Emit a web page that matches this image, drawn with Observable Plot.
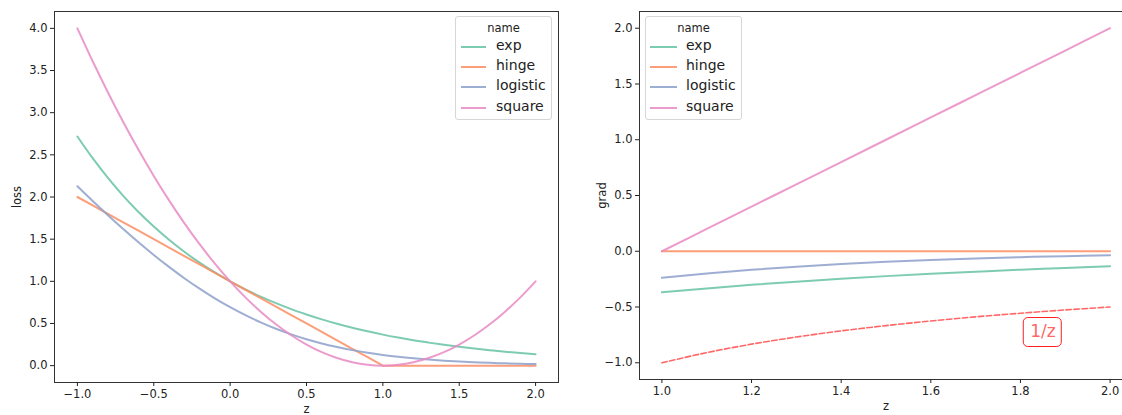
<!DOCTYPE html>
<html>
<head>
<meta charset="utf-8">
<script src="https://cdn.jsdelivr.net/npm/d3@7"></script>
<script src="https://cdn.jsdelivr.net/npm/@observablehq/plot@0.6"></script>
<style>
  html, body { margin: 0; padding: 0; background: #fff; overflow: hidden; }
  #wrap { position: relative; width: 1122px; height: 415px; overflow: hidden; font-family: "DejaVu Sans", sans-serif; }
  .panel { position: absolute; top: 0; max-width: none !important; }
  .legend { position: absolute; background: rgba(255,255,255,0.85); border: 1px solid #d6d6d6; border-radius: 3px; box-sizing: border-box; }
  .legend .title { position: absolute; left: 0; right: 0; text-align: center; font-size: 11.5px; color: #222; }
  .legend .item { position: absolute; font-size: 14px; color: #222; white-space: nowrap; line-height: 1; }
  .legend .swatch { position: absolute; height: 2px; }
  .annot { position: absolute; border: 1.2px solid #ff2020; border-radius: 5px; color: rgba(255,60,60,0.8); font-size: 17px; line-height: 1; padding: 5px 5px 6px 6px; transform: translate(-50%, -50%); background: #fff; }
</style>
</head>
<body>
<div id="wrap"></div>
<script>
// ---------- data ----------
const names = ["exp", "hinge", "logistic", "square"];
const colors = ["#66c2a5", "#fc8d62", "#8da0cb", "#e78ac3"];

const zLoss = [-1.0,-0.9,-0.8,-0.7,-0.6,-0.5,-0.4,-0.3,-0.2,-0.1,0.0,0.1,0.2,0.3,0.4,0.5,0.6,0.7,0.8,0.9,1.0,1.1,1.2,1.3,1.4,1.5,1.6,1.7,1.8,1.9,2.0];
const lossExp = [2.718,2.460,2.226,2.014,1.822,1.649,1.492,1.350,1.221,1.105,1.000,0.905,0.819,0.741,0.670,0.607,0.549,0.497,0.449,0.407,0.368,0.333,0.301,0.273,0.247,0.223,0.202,0.183,0.165,0.150,0.135];
const lossHinge = [2.0,1.9,1.8,1.7,1.6,1.5,1.4,1.3,1.2,1.1,1.0,0.9,0.8,0.7,0.6,0.5,0.4,0.3,0.2,0.1,0.0,0,0,0,0,0,0,0,0,0,0];
const lossLogistic = [2.127,1.953,1.784,1.620,1.463,1.313,1.171,1.037,0.913,0.798,0.693,0.598,0.513,0.437,0.371,0.313,0.263,0.221,0.184,0.153,0.127,0.105,0.087,0.072,0.059,0.049,0.040,0.033,0.027,0.022,0.018];
const lossSquare = [4.00,3.61,3.24,2.89,2.56,2.25,1.96,1.69,1.44,1.21,1.00,0.81,0.64,0.49,0.36,0.25,0.16,0.09,0.04,0.01,0.00,0.01,0.04,0.09,0.16,0.25,0.36,0.49,0.64,0.81,1.00];

const zGrad = [1.0,1.1,1.2,1.3,1.4,1.5,1.6,1.7,1.8,1.9,2.0];
const gradExp = [-0.368,-0.333,-0.301,-0.273,-0.247,-0.223,-0.202,-0.183,-0.165,-0.150,-0.135];
const gradHinge = [0,0,0,0,0,0,0,0,0,0,0];
const gradLogistic = [-0.238,-0.200,-0.166,-0.138,-0.115,-0.095,-0.078,-0.065,-0.053,-0.044,-0.036];
const gradSquare = [0.0,0.2,0.4,0.6,0.8,1.0,1.2,1.4,1.6,1.8,2.0];
const invZ = [-1.000,-0.909,-0.833,-0.769,-0.714,-0.667,-0.625,-0.588,-0.556,-0.526,-0.500];

const lossTicksX = [-1.0,-0.5,0.0,0.5,1.0,1.5,2.0];
const lossTicksY = [0.0,0.5,1.0,1.5,2.0,2.5,3.0,3.5,4.0];
const gradTicksX = [1.0,1.2,1.4,1.6,1.8,2.0];
const gradTicksY = [-1.0,-0.5,0.0,0.5,1.0,1.5,2.0];
const annotLabel = "1/z";
const annotPos = [1.85, -0.73];

// ---------- tables ----------
const lossSeries = [lossExp, lossHinge, lossLogistic, lossSquare];
const gradSeries = [gradExp, gradHinge, gradLogistic, gradSquare];
const lossRows = names.map((n, i) => zLoss.map((z, j) => ({name: n, z, v: lossSeries[i][j]})));
const gradRows = names.map((n, i) => zGrad.map((z, j) => ({name: n, z, v: gradSeries[i][j]})));
const invRows = zGrad.map((z, j) => ({z, v: invZ[j]}));

const fmt = d => d.toFixed(1).replace("-", "\u2212");
const style = {fontFamily: "DejaVu Sans, sans-serif", fontSize: "11.5px", color: "#222", background: "transparent", overflow: "hidden"};

function seriesMarks(rows) {
  return rows.map((r, i) => Plot.line(r, {
    x: "z", y: "v", stroke: colors[i], strokeWidth: 2, strokeOpacity: 0.85,
    curve: names[i] === "hinge" ? "linear" : "catmull-rom"
  }));
}
function spines(sides) {
  return sides.map(s => Plot.frame({anchor: s, stroke: "#333", strokeWidth: 1}));
}

const wrap = document.getElementById("wrap");

// ---------- left panel ----------
const left = Plot.plot({
  width: 561, height: 415,
  marginLeft: 54, marginRight: 3, marginTop: 11, marginBottom: 33,
  style,
  x: {domain: [-1.15, 2.15]},
  y: {domain: [-0.2, 4.2]},
  marks: [
    ...seriesMarks(lossRows),
    ...spines(["left", "right", "top", "bottom"]),
    Plot.axisX({ticks: lossTicksX, tickFormat: fmt, tickSize: 4, tickPadding: 3, label: "z", labelAnchor: "center", labelArrow: "none", labelOffset: 30, fontSize: 11.5}),
    Plot.axisY({ticks: lossTicksY, tickFormat: fmt, tickSize: 4, tickPadding: 3, label: "loss", labelAnchor: "center", labelArrow: "none", labelOffset: 42, fontSize: 11.5})
  ]
});
left.classList.add("panel");
left.style.left = "0px";
wrap.appendChild(left);

// ---------- right panel (its right spine lies beyond the picture's edge) ----------
const right = Plot.plot({
  width: 561, height: 415,
  marginLeft: 78, marginRight: -10, marginTop: 11, marginBottom: 36,
  style,
  x: {domain: [0.95, 2.05]},
  y: {domain: [-1.15, 2.15]},
  marks: [
    ...seriesMarks(gradRows),
    Plot.line(invRows, {x: "z", y: "v", stroke: "#ff0000", strokeOpacity: 0.6, strokeWidth: 1.6, strokeDasharray: "5.5,2.5", curve: "catmull-rom"}),
    ...spines(["left", "top", "bottom"]),
    Plot.axisX({ticks: gradTicksX, tickFormat: fmt, tickSize: 4, tickPadding: 3, label: "z", labelAnchor: "center", labelArrow: "none", labelOffset: 30, fontSize: 11.5}),
    Plot.axisY({ticks: gradTicksY, tickFormat: fmt, tickSize: 4, tickPadding: 3, label: "grad", labelAnchor: "center", labelArrow: "none", labelOffset: 42, fontSize: 11.5})
  ]
});
right.classList.add("panel");
right.style.left = "561px";
wrap.appendChild(right);

// ---------- legends ----------
function legend(x, y, w, h, lineX0, lineX1, textX) {
  const L = document.createElement("div");
  L.className = "legend";
  Object.assign(L.style, {left: x + "px", top: y + "px", width: w + "px", height: h + "px"});
  const t = document.createElement("div");
  t.className = "title"; t.textContent = "name"; t.style.top = "4px";
  L.appendChild(t);
  names.forEach((n, i) => {
    const cy = 30 + i * 20.2;
    const s = document.createElement("div");
    s.className = "swatch";
    Object.assign(s.style, {left: lineX0 + "px", width: (lineX1 - lineX0) + "px", top: (cy - 1) + "px", background: colors[i], opacity: 0.85});
    L.appendChild(s);
    const it = document.createElement("div");
    it.className = "item"; it.textContent = n;
    Object.assign(it.style, {left: textX + "px", top: (cy - 9) + "px"});
    L.appendChild(it);
  });
  wrap.appendChild(L);
}
legend(455, 16, 97, 104, 5, 30, 40);
legend(645, 16, 97, 104, 4, 31, 40);

// ---------- annotation ----------
const sx = right.scale("x"), sy = right.scale("y");
const a = document.createElement("div");
a.className = "annot"; a.textContent = annotLabel;
a.style.left = (561 + sx.apply(annotPos[0])) + "px";
a.style.top = sy.apply(annotPos[1]) + "px";
wrap.appendChild(a);
</script>
</body>
</html>
